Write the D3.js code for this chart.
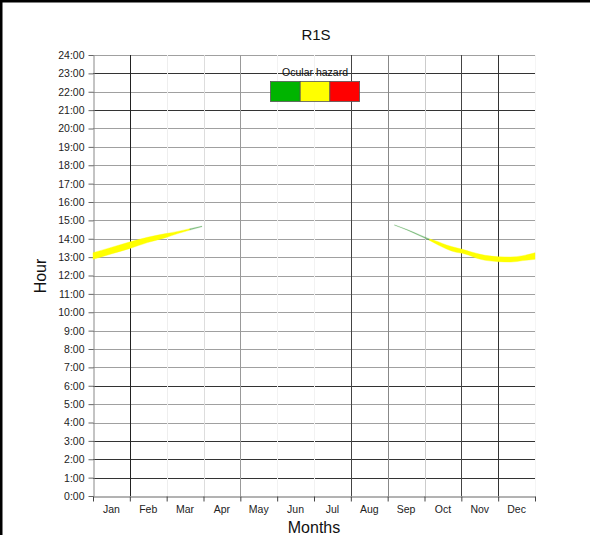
<!DOCTYPE html>
<html>
<head>
<meta charset="utf-8">
<script src="https://cdn.jsdelivr.net/npm/d3@7"></script>
<style>
  body { margin: 0; background: #fff; }
  svg text { font-family: "Liberation Sans", Arial, sans-serif; }
</style>
</head>
<body>
<svg id="chart" width="590" height="535"></svg>
<script>
// ---- data ----
const months = ["Jan", "Feb", "Mar", "Apr", "May", "Jun", "Jul", "Aug", "Sep", "Oct", "Nov", "Dec"];
const hourTicks = d3.range(0, 25);
const hazardLevels = ["green", "yellow", "red"];
const hazardLegendTitle = "Ocular hazard";

// Glare window, first half of the year (day of year, start hour, end hour, hazard level)
const springDays  = [0, 15, 30, 45, 60, 70, 80, 90];
const springStart = [12.88, 13.17, 13.46, 13.79, 14.06, 14.28, 14.47, 14.65];
const springEnd   = [13.24, 13.53, 13.82, 14.08, 14.28, 14.40, 14.55, 14.69];
const springLevel = ["yellow", "yellow", "yellow", "yellow", "yellow", "yellow", "green", "green"];

// Glare window, second half of the year
const autumnDays  = [249, 260, 270, 278, 285, 292, 300, 305, 320, 335, 345, 355, 365];
const autumnStart = [14.73, 14.45, 14.15, 13.91, 13.66, 13.44, 13.26, 13.21, 12.88, 12.75, 12.73, 12.81, 12.88];
const autumnEnd   = [14.76, 14.49, 14.21, 13.99, 13.84, 13.66, 13.51, 13.43, 13.15, 13.02, 13.01, 13.08, 13.24];
const autumnLevel = ["green", "green", "green", "yellow", "yellow", "yellow", "yellow", "yellow", "yellow", "yellow", "yellow", "yellow", "yellow"];

// ---- layout & styles ----
const svg = d3.select("#chart");
const plot = { left: 93, right: 535, top: 55, bottom: 496 };
const legendFill = { green: "#00b400", yellow: "#ffff00", red: "#ff0000" };
const bandFill = { green: "#3a9a3a", yellow: "#ffff00", red: "#ff0000" };
// shades of the month separators, left to right
const monthLineShade = ["#888", "#222", "#eee", "#ddd", "#999", "#f2f2f2", "#f2f2f2", "#444", "#888", "#ccc", "#444", "#333", "#f5f5f5"];
const darkHours = new Set([1, 2, 3, 6, 21, 23]);

const x = d3.scaleLinear().domain([0, 365]).range([plot.left, plot.right]);
const y = d3.scaleLinear().domain([0, 24]).range([plot.bottom, plot.top]);
const monthX = d3.scaleLinear().domain([0, 12]).range([plot.left, plot.right]);

svg.append("rect").attr("width", 590).attr("height", 535).attr("fill", "#fff");

// frame edges
svg.append("line").attr("x1", 0).attr("x2", 590).attr("y1", 1).attr("y2", 1)
  .attr("stroke", "#000").attr("stroke-width", 3);
svg.append("line").attr("x1", 1).attr("x2", 1).attr("y1", 0).attr("y2", 535)
  .attr("stroke", "#000").attr("stroke-width", 3);

// horizontal hour grid
svg.append("g").selectAll("line")
  .data(hourTicks.filter(h => h > 0))
  .join("line")
  .attr("x1", plot.left).attr("x2", plot.right)
  .attr("y1", d => Math.round(y(d)) + 0.5).attr("y2", d => Math.round(y(d)) + 0.5)
  .attr("stroke", d => darkHours.has(d) ? "#333" : "#a0a0a0")
  .attr("stroke-width", 1);

// vertical month separators
svg.append("g").selectAll("line")
  .data(d3.range(1, 13))
  .join("line")
  .attr("x1", d => Math.round(monthX(d)) + 0.5).attr("x2", d => Math.round(monthX(d)) + 0.5)
  .attr("y1", plot.top).attr("y2", plot.bottom)
  .attr("stroke", d => monthLineShade[d])
  .attr("stroke-width", 1);

// y axis
const yAxis = d3.axisLeft(y)
  .tickValues(hourTicks)
  .tickFormat(d => d + ":00")
  .tickSizeInner(5).tickSizeOuter(0).tickPadding(4);
const gy = svg.append("g")
  .attr("transform", `translate(${plot.left + 0.5},0)`)
  .call(yAxis);
gy.select(".domain").attr("stroke", "#888");
gy.selectAll(".tick line").attr("stroke", "#666");
gy.selectAll(".tick text").attr("font-size", 10.5).attr("fill", "#222")
  .attr("font-family", "'Liberation Sans', Arial, sans-serif");

// x axis: separators as ticks, month names between them
const xAxis = d3.axisBottom(monthX)
  .tickValues(d3.range(0, 13))
  .tickFormat("")
  .tickSizeInner(5).tickSizeOuter(0);
const gx = svg.append("g")
  .attr("transform", `translate(0,${plot.bottom + 0.5})`)
  .call(xAxis);
gx.select(".domain").attr("stroke", "#666");
gx.selectAll(".tick line").attr("stroke", "#444");

svg.append("g").selectAll("text")
  .data(months)
  .join("text")
  .attr("x", (d, i) => monthX(i + 0.5))
  .attr("y", 513)
  .attr("text-anchor", "middle")
  .attr("font-size", 10.5)
  .attr("fill", "#222")
  .text(d => d);

// glare windows
function drawWindow(days, start, end, level) {
  const pts = days.map((d, i) => ({ day: d, lo: start[i], hi: end[i], level: level[i] }));
  // split into runs of equal hazard level, sharing the boundary point
  const runs = [];
  let cur = [pts[0]];
  for (let i = 1; i < pts.length; i++) {
    cur.push(pts[i]);
    if (pts[i].level !== pts[i - 1].level || i === pts.length - 1) {
      const lvl = pts[i].level !== pts[i - 1].level ? pts[i - 1].level : pts[i].level;
      runs.push({ level: lvl, pts: cur });
      cur = [pts[i]];
    }
  }
  const area = d3.area()
    .x(p => x(p.day))
    .y0(p => y(p.lo))
    .y1(p => y(p.hi))
    .curve(d3.curveMonotoneX);
  svg.append("g").selectAll("path")
    .data(runs)
    .join("path")
    .attr("d", r => area(r.pts))
    .attr("fill", r => bandFill[r.level])
    .attr("fill-opacity", r => r.level === "green" ? 0.6 : 1)
    .attr("stroke", r => bandFill[r.level])
    .attr("stroke-width", r => r.level === "green" ? 0.4 : 0.6)
    .attr("stroke-opacity", r => r.level === "green" ? 0.4 : 0.6);
}
drawWindow(springDays, springStart, springEnd, springLevel);
drawWindow(autumnDays, autumnStart, autumnEnd, autumnLevel);

// hazard legend
const legend = svg.append("g");
const boxW = 29.7, boxH = 20, legX = 270.5, legY = 81.5;
legend.selectAll("rect")
  .data(hazardLevels)
  .join("rect")
  .attr("x", (d, i) => legX + i * boxW)
  .attr("y", legY)
  .attr("width", boxW).attr("height", boxH)
  .attr("fill", d => legendFill[d])
  .attr("stroke", "#555").attr("stroke-width", 0.8);
legend.append("text")
  .attr("x", legX + boxW * 1.5).attr("y", 76)
  .attr("text-anchor", "middle")
  .attr("font-size", 10.5).attr("fill", "#111")
  .text(hazardLegendTitle);

// titles
svg.append("text").attr("x", 316).attr("y", 40)
  .attr("text-anchor", "middle").attr("font-size", 15).attr("fill", "#111")
  .text("R1S");
svg.append("text").attr("x", 314).attr("y", 533)
  .attr("text-anchor", "middle").attr("font-size", 16).attr("fill", "#111")
  .text("Months");
svg.append("text")
  .attr("transform", "translate(46,276) rotate(-90)")
  .attr("text-anchor", "middle").attr("font-size", 16).attr("fill", "#111")
  .text("Hour");
</script>
</body>
</html>
